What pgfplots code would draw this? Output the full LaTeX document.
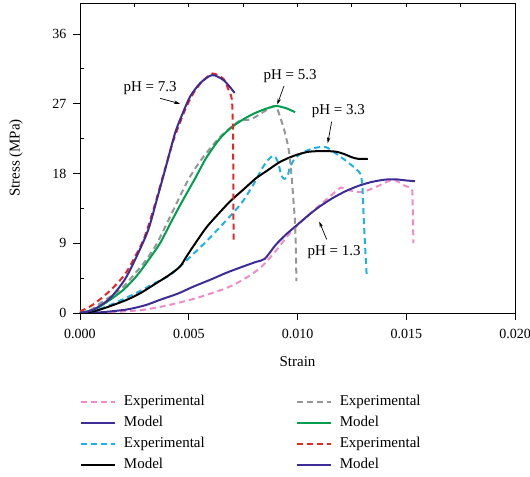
\documentclass[border=0pt]{standalone}
\usepackage{fontspec}
\setmainfont{Liberation Serif}
\usepackage{pgfplots}
\pgfplotsset{compat=1.18}
\usetikzlibrary{arrows.meta,calc}

\definecolor{cPink}{RGB}{238,140,200}
\definecolor{cPurple}{RGB}{62,44,150}
\definecolor{cCyan}{RGB}{30,178,226}
\definecolor{cGray}{RGB}{150,150,150}
\definecolor{cGreen}{RGB}{0,158,78}
\definecolor{cRed}{RGB}{228,38,38}

\newcommand{\tickfont}{\fontsize{14bp}{16bp}\selectfont}
\newcommand{\lblfont}{\fontsize{15bp}{17bp}\selectfont}

\tikzset{
  model/.style={line width=2bp, solid},
  exper/.style={line width=2bp, dash pattern=on 6bp off 4bp},
}

\begin{document}
\begin{tikzpicture}
\begin{axis}[
  scale only axis,
  width=435bp, height=310bp,
  xmin=0, xmax=0.02, ymin=0, ymax=40,
  xtick={0,0.005,0.01,0.015,0.02},
  xticklabels={0.000,0.005,0.010,0.015,0.020},
  ytick={0,9,18,27,36},
  minor y tick num=1,
  scaled x ticks=false,
  xtick pos=bottom, ytick pos=left,
  tick align=outside,
  major tick length=7bp, minor tick length=4bp,
  minor y tick style={xshift=4bp},
  axis line style={line width=0.8bp},
  tick style={line width=0.8bp, black},
  /pgf/number format/assume math mode=true,
  tick label style={font=\tickfont},
  xticklabel style={yshift=-6bp},
  yticklabel style={xshift=-3bp},
  xlabel={Strain}, ylabel={Stress (MPa)},
  every axis x label/.style={at={(axis description cs:0.5,0)}, anchor=center, yshift=-49bp, font=\lblfont},
  every axis y label/.style={at={(axis description cs:-0.147,0.5)}, anchor=center, rotate=90, font=\lblfont},
  every axis plot/.append style={smooth, tension=0.45},
  legend columns=2,
  legend cell align=left,
  legend image code/.code={\draw[#1, line width=2bp] (0bp,0bp) -- (34bp,0bp);},
  legend style={
    draw=none, fill=none, font=\lblfont,
    at={(axis description cs:0,0)}, anchor=north west, yshift=-83bp,
    inner sep=0pt, outer sep=0pt,
    row sep=8bp,
    nodes={inner sep=0pt, text height=10bp, text depth=3bp},
    /tikz/every odd column/.append style={column sep=8bp},
    /tikz/every even column/.append style={column sep=91bp},
  },
]
\coordinate (bl) at (rel axis cs:0,0);
\coordinate (tr) at (rel axis cs:1,1);

% pH = 1.3
\addplot[exper, cPink, forget plot] coordinates {
(0,0) (0.001,0.05) (0.002,0.2) (0.0029,0.4) (0.0037,0.8) (0.00444,1.25) (0.0052,1.8)
(0.006,2.5) (0.0068,3.3) (0.0075,4.3) (0.00828,5.8) (0.009,8.0) (0.0095,9.8)
(0.01,11.3) (0.0106,12.9) (0.0111,14.1) (0.0116,15.3) (0.0120,16.2) (0.0123,15.9)
(0.0128,15.6) (0.0132,15.8) (0.0138,16.5) (0.0144,17.2) (0.01487,16.5)
(0.01525,16.0) (0.01529,14.6) (0.01531,12) (0.01533,9.0)};
\addplot[model, cPurple, forget plot] coordinates {
(0,0) (0.001,0.1) (0.00215,0.45) (0.003,1.0) (0.00368,1.7) (0.0045,2.5) (0.00521,3.4)
(0.006,4.3) (0.00674,5.2) (0.0075,6.0) (0.0081,6.6) (0.0085,7.0) (0.009,8.8)
(0.0095,10.2) (0.01,11.4) (0.0105,12.6) (0.011,13.7) (0.0116,14.8) (0.0122,15.7)
(0.0128,16.4) (0.0134,16.9) (0.014,17.2) (0.0145,17.25) (0.015,17.1) (0.0154,17.0)};

% pH = 3.3
\addplot[exper, cCyan, forget plot] coordinates {
(0,0) (0.0007,0.3) (0.00153,1.2) (0.0026,2.6) (0.0034,3.8) (0.00414,4.9) (0.0049,6.8)
(0.00583,9.3) (0.00674,12.0) (0.00743,14.2) (0.008,16.7) (0.0083,18.3) (0.0086,19.6)
(0.0089,20.3) (0.0091,19.5) (0.00925,17.8) (0.0094,17.3) (0.00955,17.7) (0.00965,18.8)
(0.0099,20.0) (0.0103,20.8) (0.0108,21.3) (0.0113,21.4) (0.0117,20.7) (0.0122,19.7)
(0.0126,18.8) (0.01288,18.0) (0.01298,16.5) (0.01304,12.5) (0.01312,8) (0.01318,4.9)};
\addplot[model, black, forget plot] coordinates {
(0,0) (0.0006,0.2) (0.0012,0.7) (0.00215,1.7) (0.0028,2.6) (0.00337,3.6) (0.0041,4.9)
(0.0046,6.0) (0.0049,7.3) (0.00523,8.7) (0.0058,11.0) (0.0063,12.6) (0.0069,14.4)
(0.00754,16.0) (0.0081,17.4) (0.00862,18.4) (0.0092,19.5) (0.00985,20.3) (0.0105,20.8)
(0.01123,20.9) (0.0118,20.8) (0.01215,20.5) (0.0125,20.1) (0.01277,19.9) (0.01323,19.9)};

% pH = 5.3
\addplot[exper, cGray, forget plot] coordinates {
(0,0) (0.0005,0.4) (0.001,1.4) (0.0015,2.3) (0.002,3.4) (0.0025,5.0) (0.003,6.7)
(0.0035,8.8) (0.004,11.6) (0.0045,14.5) (0.005,17.3) (0.0055,19.5) (0.006,21.3)
(0.0065,22.9) (0.007,24.1) (0.0074,24.9) (0.0077,24.9) (0.008,25.2) (0.0083,25.7)
(0.0087,26.4) (0.009,26.7) (0.0092,25.3) (0.0094,23.5) (0.0096,21.0) (0.00973,17.6)
(0.0098,15.0) (0.00988,12.0) (0.00992,9.0) (0.00995,4.1)};
\addplot[model, cGreen, forget plot] coordinates {
(0,0) (0.0007,0.5) (0.00138,1.7) (0.002,3.0) (0.00261,4.8) (0.00314,6.8) (0.00368,9.0)
(0.0042,11.8) (0.0047,14.4) (0.0053,17.4) (0.0058,20.0) (0.0064,22.4) (0.0069,23.8)
(0.0074,24.8) (0.0079,25.6) (0.0084,26.2) (0.009,26.7) (0.0095,26.4) (0.00989,25.9)};

% pH = 7.3
\addplot[exper, cRed, forget plot] coordinates {
(0,0.2) (0.0005,0.9) (0.00107,2.1) (0.0016,3.5) (0.00214,5.3) (0.00291,9.4)
(0.00337,13.3) (0.0038,17.5) (0.0043,22.3) (0.0048,26.0) (0.0052,28.3) (0.0056,29.8)
(0.0061,30.9) (0.0066,30.2) (0.0068,29.0) (0.00698,27.6) (0.00703,24) (0.00705,18)
(0.00706,9.0)};
\addplot[model, cPurple, forget plot] coordinates {
(0,0) (0.000615,0.43) (0.00138,1.9) (0.00215,4.74) (0.00308,10.3) (0.00354,14.7)
(0.004,19.4) (0.00438,23.3) (0.00477,26.1) (0.00508,28.0) (0.00554,29.7)
(0.00608,30.7) (0.00662,30.0) (0.00711,28.4)};

% legend, filled row by row
\addlegendimage{exper, cPink}\addlegendentry{Experimental}
\addlegendimage{exper, cGray}\addlegendentry{Experimental}
\addlegendimage{model, cPurple}\addlegendentry{Model}
\addlegendimage{model, cGreen}\addlegendentry{Model}
\addlegendimage{exper, cCyan}\addlegendentry{Experimental}
\addlegendimage{exper, cRed}\addlegendentry{Experimental}
\addlegendimage{model, black}\addlegendentry{Model}
\addlegendimage{model, cPurple}\addlegendentry{Model}

% curve labels
\node[font=\lblfont] at (axis cs:0.00322,29.0) {pH = 7.3};
\draw[line width=0.7bp, -{Stealth[length=6bp,width=3.5bp]}] (axis cs:0.00368,27.7) -- (axis cs:0.0046,27.0);
\node[font=\lblfont] at (axis cs:0.00966,30.5) {pH = 5.3};
\draw[line width=0.7bp, -{Stealth[length=6bp,width=3.5bp]}] (axis cs:0.00938,29.3) -- (axis cs:0.00907,26.9);
\node[font=\lblfont] at (axis cs:0.01188,26.0) {pH = 3.3};
\draw[line width=0.7bp, -{Stealth[length=6bp,width=3.5bp]}] (axis cs:0.01157,24.7) -- (axis cs:0.01139,21.9);
\node[font=\lblfont] at (axis cs:0.01168,7.9) {pH = 1.3};
\draw[line width=0.7bp, -{Stealth[length=6bp,width=3.5bp]}] (axis cs:0.01134,9.5) -- (axis cs:0.011,11.8);
\end{axis}
% short inward ticks along the top edge
\begin{axis}[
  scale only axis,
  width=435bp, height=310bp,
  xmin=0, xmax=0.02, ymin=0, ymax=40,
  axis x line*=top, axis y line=none,
  axis line style={line width=0.8bp},
  xtick={0.0025,0.005,0.0075,0.01,0.0125,0.015,0.0175},
  scaled x ticks=false,
  xticklabels={},
  tick align=inside, major tick length=4bp,
  tick style={line width=0.8bp, black},
]
\end{axis}
\pgfresetboundingbox
\path ($(bl)+(-80bp,-164bp)$) rectangle ($(tr)+(15bp,3bp)$);
\end{tikzpicture}
\end{document}
